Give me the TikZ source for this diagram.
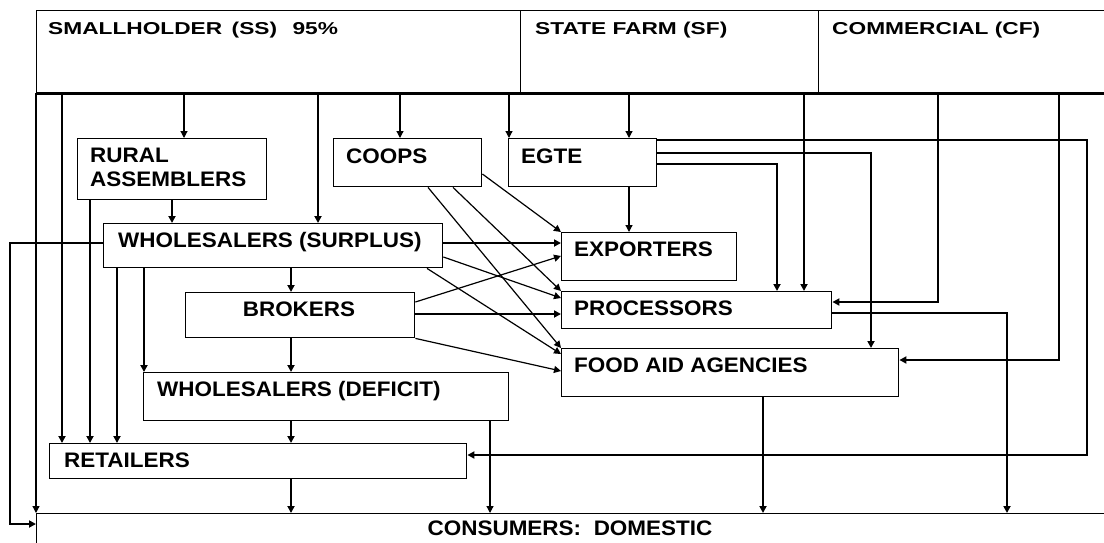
\documentclass[tikz,border=0pt]{standalone}
\usepackage{fontspec}
\newfontfamily\boxfont{Liberation Sans}[FakeStretch=1.07]
\newfontfamily\headfont{Liberation Sans}[FakeStretch=1.32]
\usetikzlibrary{arrows.meta}

\tikzset{
	box/.style={draw, line width=1.4pt, anchor=north west, inner sep=0pt},
	lbl/.style={anchor=base west, inner sep=0pt, font=\boxfont\bfseries\fontsize{21}{24}\selectfont},
	hlbl/.style={anchor=base west, inner sep=0pt, font=\headfont\bfseries\fontsize{17.2}{20}\selectfont},
	arr/.style={-{Triangle[length=7pt,width=7pt]}},
	fine/.style={line width=1.2pt},
	heavy/.style={line width=2.4pt}
}

\begin{document}
\begin{tikzpicture}[x=1pt, y=-1pt]
	\useasboundingbox (0,0) rectangle (1104,542);
	\fill[white] (0,0) rectangle (1104,542);

	% producers
	\node[box, minimum width=484pt, minimum height=82pt] (ss) at (36,10) {};
	\node[box, minimum width=298pt, minimum height=82pt] (sf) at (520,10) {};
	\node[box, minimum width=300pt, minimum height=82pt] (cf) at (818,10) {};
	\draw[line width=2.2pt] (ss.south west) -- (cf.south east);
	\node[hlbl] (ssT) at (48,34) {SMALLHOLDER\hspace{0.55em}(SS)\hspace{0.9em}95\%};
	\node[hlbl] (sfT) at (535,34) {STATE FARM (SF)};
	\node[hlbl] (cfT) at (832,34) {COMMERCIAL (CF)};

	% traders
	\node[box, minimum width=189pt, minimum height=61pt] (rur) at (77,138) {};
	\node[box, minimum width=148pt, minimum height=48pt] (coop) at (333,138) {};
	\node[box, minimum width=148pt, minimum height=48pt] (egte) at (508,138) {};
	\node[box, minimum width=339pt, minimum height=44pt] (sur) at (103,223) {};
	\node[box, minimum width=229pt, minimum height=45pt] (bro) at (185,292) {};
	\node[box, minimum width=365pt, minimum height=48pt] (def) at (143,372) {};
	\node[box, minimum width=417pt, minimum height=35pt] (rtl) at (49,443) {};

	\node[lbl, anchor=north west, align=left] (rurT) at (90,148) {RURAL\\ASSEMBLERS};
	\node[lbl] (coopT) at (346,163) {COOPS};
	\node[lbl] (egteT) at (521,163) {EGTE};
	\node[lbl] (surT) at (118,247) {WHOLESALERS (SURPLUS)};
	\node[lbl, anchor=base] (broT) at (299,316) {BROKERS};
	\node[lbl] (defT) at (157,396) {WHOLESALERS (DEFICIT)};
	\node[lbl] (rtlT) at (64,467) {RETAILERS};

	% buyers
	\node[box, minimum width=175pt, minimum height=48pt] (exp) at (561,232) {};
	\node[box, minimum width=270pt, minimum height=37pt] (pro) at (561,291) {};
	\node[box, minimum width=337pt, minimum height=48pt] (foo) at (561,348) {};
	\node[box, minimum width=1080pt, minimum height=50pt] (con) at (36,513) {};

	\node[lbl] (expT) at (574,256) {EXPORTERS};
	\node[lbl] (proT) at (574,315) {PROCESSORS};
	\node[lbl] (fooT) at (574,372) {FOOD AID AGENCIES};
	\node[lbl, anchor=base] (conT) at (570,535) {CONSUMERS:\hspace{0.6em}DOMESTIC};

	% from the farms
	\draw[fine, arr] (ss.south west) -- (con.north west);
	\draw[heavy, arr] (62,0 |- ss.south) -- (62,0 |- rtl.north);
	\draw[fine, arr] (184,0 |- ss.south) -- (184,0 |- rur.north);
	\draw[heavy, arr] (318,0 |- ss.south) -- (318,0 |- sur.north);
	\draw[fine, arr] (400,0 |- ss.south) -- (400,0 |- coop.north);
	\draw[fine, arr] (509,0 |- ss.south) -- (509,0 |- egte.north);
	\draw[fine, arr] (629,0 |- sf.south) -- (629,0 |- egte.north);
	\draw[heavy, arr] (804,0 |- sf.south) -- (804,0 |- pro.north);
	\draw[heavy, arr] (938,0 |- cf.south) |- (pro.east |- 0,302);
	\draw[heavy, arr] (1059,0 |- cf.south) |- (foo.east |- 0,360);

	% EGTE
	\draw[heavy, arr] (egte.east |- 0,140) -| (1087,455) -- (rtl.east |- 0,455);
	\draw[heavy, arr] (egte.east |- 0,153) -| (871,0 |- foo.north);
	\draw[heavy, arr] (egte.east |- 0,164) -| (777,0 |- pro.north);
	\draw[fine, arr] (629,0 |- egte.south) -- (629,0 |- exp.north);

	% rural assemblers, coops
	\draw[heavy, arr] (172,0 |- rur.south) -- (172,0 |- sur.north);
	\draw[heavy, arr] (90,0 |- rur.south) -- (90,0 |- rtl.north);
	\draw[fine, arr] (coop.east |- 0,174) -- (exp.north west);
	\draw[fine, arr] (453,0 |- coop.south) -- (pro.north west);
	\draw[fine, arr] (428,0 |- coop.south) -- (foo.north west);

	% wholesalers, brokers
	\draw[heavy, arr] (sur.east |- 0,243) -- (exp.west |- 0,243);
	\draw[fine, arr] (sur.east |- 0,257) -- (pro.west |- 0,298);
	\draw[fine, arr] (427,0 |- sur.south) -- (foo.west |- 0,354);
	\draw[heavy, arr] (sur.west |- 0,243) -| (10,524) -- (con.west |- 0,524);
	\draw[heavy, arr] (117,0 |- sur.south) -- (117,0 |- rtl.north);
	\draw[heavy, arr] (144,0 |- sur.south) -- (144,0 |- def.north);
	\draw[heavy, arr] (291,0 |- sur.south) -- (291,0 |- bro.north);
	\draw[fine, arr] (bro.east |- 0,302) -- (exp.west |- 0,256);
	\draw[heavy, arr] (bro.east |- 0,314) -- (pro.west |- 0,314);
	\draw[fine, arr] (bro.south east) -- (foo.west |- 0,371);
	\draw[heavy, arr] (291,0 |- bro.south) -- (291,0 |- def.north);
	\draw[heavy, arr] (291,0 |- def.south) -- (291,0 |- rtl.north);
	\draw[fine, arr] (490,0 |- def.south) -- (490,0 |- con.north);
	\draw[heavy, arr] (291,0 |- rtl.south) -- (291,0 |- con.north);

	% to consumers
	\draw[heavy, arr] (pro.east |- 0,313) -| (1007,0 |- con.north);
	\draw[heavy, arr] (763,0 |- foo.south) -- (763,0 |- con.north);
\end{tikzpicture}
\end{document}
